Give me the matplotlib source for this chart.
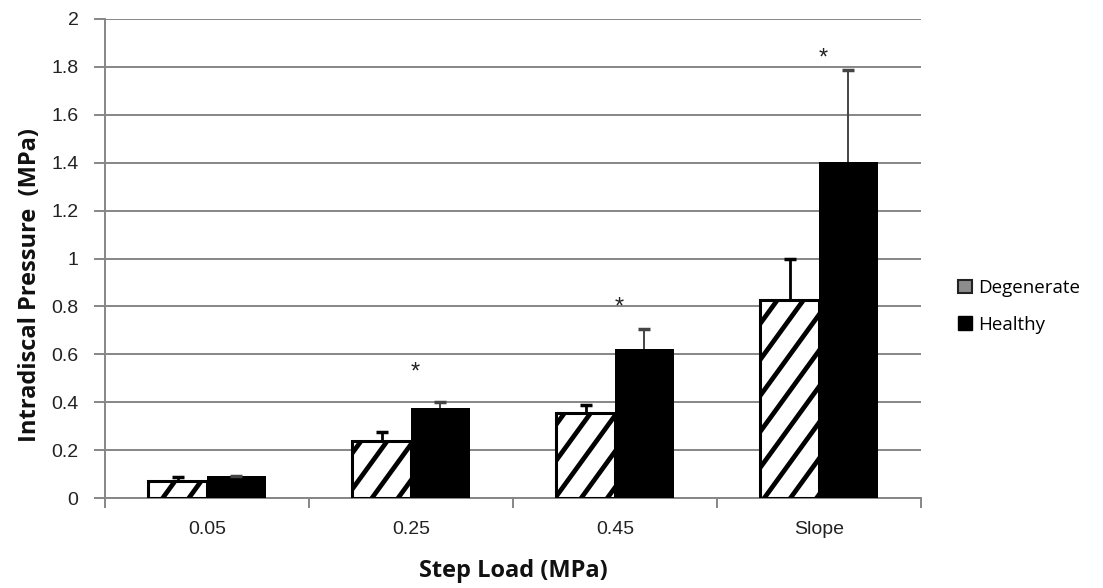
import numpy as np
import matplotlib
matplotlib.use("Agg")
import matplotlib.pyplot as plt
from matplotlib.patches import Patch
from matplotlib.lines import Line2D
from matplotlib.transforms import IdentityTransform, Bbox

# Data
categories = ["0.05", "0.25", "0.45", "Slope"]
degenerate = [0.073, 0.239, 0.357, 0.827]
degenerate_err = [0.015, 0.036, 0.031, 0.170]
healthy = [0.092, 0.375, 0.621, 1.402]
healthy_err = [0.003, 0.028, 0.085, 0.383]
star_levels = [None, 0.50, 0.77, 1.81]

W, H, DPI = 1103, 588, 100
fig = plt.figure(figsize=(W / DPI, H / DPI), dpi=DPI)
ax = fig.add_axes([105 / W, 1 - 498.3 / H, (921 - 105) / W, (498.3 - 18.7) / H])

grid_c = "#868686"
x = np.arange(len(categories))
bw = 0.288

ax.set_xlim(-0.5, len(categories) - 0.5)
ax.set_ylim(0, 2)
ax.set_yticks(np.arange(0, 2.01, 0.2))
ax.set_yticklabels(["0", "0.2", "0.4", "0.6", "0.8", "1", "1.2", "1.4", "1.6", "1.8", "2"])
ax.yaxis.grid(True, color=grid_c, lw=1.4)
ax.set_axisbelow(True)

deg_bars = ax.bar(x - bw / 2, degenerate, bw, facecolor="white", edgecolor="black",
                  linewidth=2.2, zorder=3)
ax.bar(x + bw / 2, healthy, bw, facecolor="black", edgecolor="black", linewidth=0, zorder=3)

# error bars (upper only)
e1 = ax.errorbar(x - bw / 2, degenerate, yerr=[np.zeros(4), degenerate_err], fmt="none",
                 ecolor="black", elinewidth=2.0, capsize=4.5, capthick=2.5, zorder=4)
e2 = ax.errorbar(x + bw / 2, healthy, yerr=[np.zeros(4), healthy_err], fmt="none",
                 ecolor="#444444", elinewidth=1.4, capsize=4, capthick=2.5, zorder=4)
for cl in e2[1]:
    cl.set_color("black")
for eb in (e1, e2):
    eb[1][0].set_visible(False)  # no cap on the zero-length lower side

# diagonal stripes inside degenerate bars, computed in pixel space
spacing = 36.0
slope = np.tan(np.radians(54))
for bar in deg_bars:
    (x0, y0), (x1, y1) = ax.transData.transform(
        [(bar.get_x(), 0), (bar.get_x() + bar.get_width(), bar.get_height())])
    cmin = y0 - slope * x1
    cmax = y1 - slope * x0
    k0 = int(np.floor(cmin / spacing)) - 1
    k1 = int(np.ceil(cmax / spacing)) + 1
    clip = Bbox([[x0, y0], [x1, y1]])
    for k in range(k0, k1 + 1):
        c = k * spacing + 10
        xa = max(x0, (y0 - c) / slope) - 3
        xb = min(x1, (y1 - c) / slope) + 3
        if xb <= xa:
            continue
        xs = np.array([xa, xb])
        ys = c + slope * xs
        ln = Line2D(xs, ys, transform=IdentityTransform(), color="black", lw=3.4,
                    solid_capstyle="butt", zorder=3.5)
        ax.add_line(ln)
        ln.set_clip_box(clip)
        ln.set_clip_path(None)
        ln.set_clip_on(True)

# significance markers
for i, s in enumerate(star_levels):
    if s is not None:
        ax.text(x[i] + 0.02, s, "*", ha="center", va="baseline",
                fontsize=17, family="Liberation Sans", color="#222222", zorder=5)

# axes styling
for side in ("top", "right"):
    ax.spines[side].set_visible(False)
for side in ("left", "bottom"):
    ax.spines[side].set_color(grid_c)
    ax.spines[side].set_linewidth(1.4)

ax.tick_params(axis="y", length=8, width=1.4, color=grid_c, pad=11,
               labelsize=14, labelcolor="#222222")
ax.set_xticks(np.arange(-0.5, len(categories), 1.0))
ax.set_xticklabels([])
ax.tick_params(axis="x", which="major", length=7, width=1.4, color=grid_c)
ax.set_xticks(x, minor=True)
ax.set_xticklabels(categories, minor=True)
ax.tick_params(axis="x", which="minor", length=0, pad=16, labelsize=14, labelcolor="#222222")
for lab in ax.get_xticklabels(minor=True) + ax.get_yticklabels():
    lab.set_family("Liberation Sans")

fig.text(513 / W, 1 - 571 / H, "Step Load (MPa)", ha="center", va="center",
         fontsize=17, fontweight="bold", family="Open Sans", color="#111111")
fig.text(30 / W, 1 - 285 / H, "Intradiscal Pressure  (MPa)", ha="center", va="center",
         rotation=90, fontsize=17, fontweight="bold", family="Open Sans", color="#111111")

handles = [Patch(facecolor="#8c8c8c", edgecolor="#222222", linewidth=1.5),
           Patch(facecolor="black", edgecolor="black")]
fig.legend(handles, ["Degenerate", "Healthy"], loc="center left",
           bbox_to_anchor=(958 / W, 1 - 306.5 / H), bbox_transform=fig.transFigure,
           frameon=False, prop={"family": "Open Sans", "size": 13.5},
           handlelength=0.75, handleheight=0.75, handletextpad=0.35,
           labelspacing=1.0, borderpad=0, borderaxespad=0)

fig.savefig("out.png", dpi=DPI)
